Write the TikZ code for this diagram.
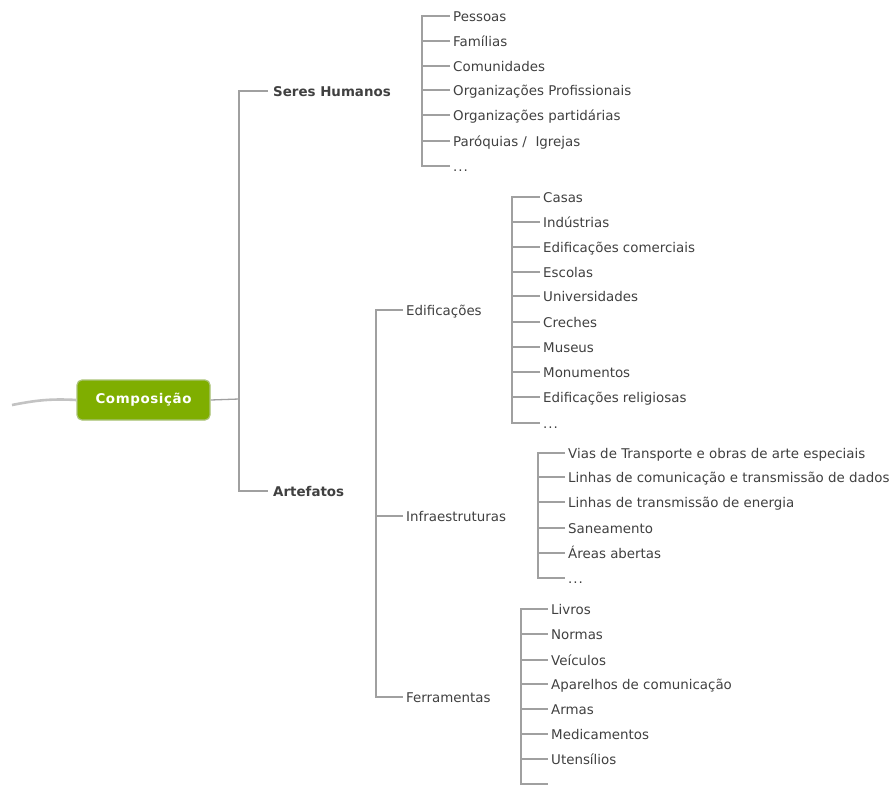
\documentclass[tikz,border=0pt]{standalone}
\usepackage{fontspec}
\setmainfont{DejaVu Sans}
\newcommand\tdots{.\kern1pt.\kern1pt.}
\begin{document}
\begin{tikzpicture}[x=1pt,y=-1pt,
  every node/.style={font=\fontsize{13.4}{15}\selectfont, text=txt, inner ysep=0pt, text height=13.2pt, text depth=2.2pt},
  leaf/.style={anchor=west, inner xsep=3pt},
  mid/.style={anchor=west, inner xsep=3pt},
  top/.style={anchor=west, inner xsep=5pt, font=\fontsize{13.4}{15}\selectfont\bfseries},
  conn/.style={draw=lin, line width=1.3pt},
  rootbox/.style={draw=rootborder, line width=1.2pt, fill=rootfill, rounded corners=5pt, minimum width=133pt, minimum height=40pt, text=white, text height=10pt, text depth=2.5pt, font=\fontsize{13.4}{15}\selectfont\bfseries}]
\definecolor{txt}{RGB}{64,64,64}
\definecolor{lin}{RGB}{160,160,160}
\definecolor{rootfill}{RGB}{127,174,0}
\definecolor{rootborder}{RGB}{170,195,120}
\definecolor{curve}{RGB}{195,195,195}
\useasboundingbox (0,0) rectangle (893,787);

% root
\node[rootbox] (root) at (143.5,400) {C\kern0.6pt o\kern0.6pt m\kern0.6pt p\kern0.6pt o\kern0.6pt s\kern0.6pt i\kern0.6pt ç\kern0.6pt ã\kern0.6pt o};
\coordinate (lefttail) at (12,405);
\draw[curve, line width=2.6pt] (lefttail) .. controls (35,400.5) and (50,398.5) .. (root.west);

% first level
\coordinate (j0) at (239,399);
\coordinate (t1) at (239,91);
\coordinate (t2) at (239,491);
\node[top] (seres) at (268,91) {Seres Humanos};
\node[top] (arte) at (268,491) {Artefatos};
\draw[conn] (root.east) -- (j0);
\draw[conn] (seres.west) -- (t1) -- (t2) -- (arte.west);

% Seres Humanos children
\foreach \y/\t [count=\i] in {16/Pessoas, 41/Famílias, 66/Comunidades, 90/Organizações Profissionais, 115/Organizações partidárias, 141/{Paróquias /\ \ Igrejas}, 166/\tdots}{
  \node[leaf] (s\i) at (450,\y) {\t};
}
\coordinate (sb) at (422,16);
\coordinate (se) at (422,166);
\draw[conn] (s1.west) -- (sb) -- (se) -- (s7.west);
\foreach \i in {2,3,4,5,6}{ \draw[conn] (s\i.west) -- (s\i.west -| sb); }

% Artefatos mid level
\node[mid] (edif) at (403,310) {Edificações};
\node[mid] (infra) at (403,516) {Infraestruturas};
\node[mid] (ferr) at (403,697) {Ferramentas};
\coordinate (ab) at (376,310);
\coordinate (ae) at (376,697);
\draw[conn] (edif.west) -- (ab) -- (ae) -- (ferr.west);
\draw[conn] (infra.west) -- (infra.west -| ab);

% Edificacoes children
\foreach \y/\t [count=\i] in {197/Casas, 222/Indústrias, 247/Edificações comerciais, 272/Escolas, 296/Universidades, 322/Creches, 347/Museus, 372/Monumentos, 397/Edificações religiosas, 423/\tdots}{
  \node[leaf] (e\i) at (540,\y) {\t};
}
\coordinate (eb) at (512,197);
\coordinate (ee) at (512,423);
\draw[conn] (e1.west) -- (eb) -- (ee) -- (e10.west);
\foreach \i in {2,3,4,5,6,7,8,9}{ \draw[conn] (e\i.west) -- (e\i.west -| eb); }

% Infraestruturas children
\foreach \y/\t [count=\i] in {453/Vias de Transporte e obras de arte especiais, 477/Linhas de comunicação e transmissão de dados, 502/Linhas de transmissão de energia, 528/Saneamento, 553/Áreas abertas, 578/\tdots}{
  \node[leaf] (f\i) at (565,\y) {\t};
}
\coordinate (fb) at (538,453);
\coordinate (fe) at (538,578);
\draw[conn] (f1.west) -- (fb) -- (fe) -- (f6.west);
\foreach \i in {2,3,4,5}{ \draw[conn] (f\i.west) -- (f\i.west -| fb); }

% Ferramentas children
\foreach \y/\t [count=\i] in {609/Livros, 634/Normas, 660/Veículos, 684/Aparelhos de comunicação, 709/Armas, 734/Medicamentos, 759/Utensílios, 784/{}}{
  \node[leaf] (g\i) at (548,\y) {\t};
}
\coordinate (gb) at (521,609);
\coordinate (ge) at (521,784);
\draw[conn] (g1.west) -- (gb) -- (ge) -- (g8.west);
\foreach \i in {2,3,4,5,6,7}{ \draw[conn] (g\i.west) -- (g\i.west -| gb); }
\end{tikzpicture}
\end{document}
